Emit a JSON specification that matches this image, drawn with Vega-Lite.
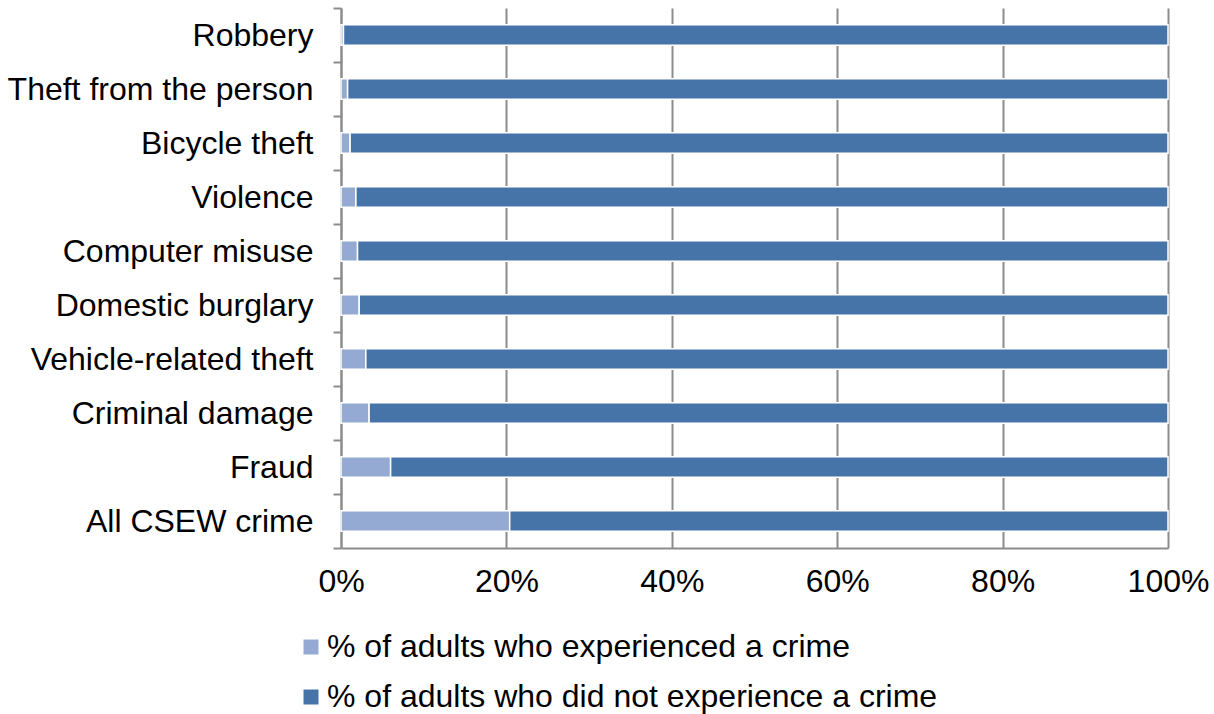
{
  "$schema": "https://vega.github.io/schema/vega-lite/v6.json",
  "width": 827,
  "height": 540,
  "autosize": {"type": "none"},
  "padding": {"left": 341, "top": 8, "right": 46, "bottom": 166},
  "background": "white",
  "config": {
    "font": "Liberation Sans",
    "view": {"stroke": null}
  },
  "data": {
    "values": [
      {"crime": "Robbery", "group": "% of adults who experienced a crime", "ord": 1, "value": 0.3},
      {"crime": "Robbery", "group": "% of adults who did not experience a crime", "ord": 2, "value": 99.7},
      {"crime": "Theft from the person", "group": "% of adults who experienced a crime", "ord": 1, "value": 0.8},
      {"crime": "Theft from the person", "group": "% of adults who did not experience a crime", "ord": 2, "value": 99.2},
      {"crime": "Bicycle theft", "group": "% of adults who experienced a crime", "ord": 1, "value": 1.1},
      {"crime": "Bicycle theft", "group": "% of adults who did not experience a crime", "ord": 2, "value": 98.9},
      {"crime": "Violence", "group": "% of adults who experienced a crime", "ord": 1, "value": 1.8},
      {"crime": "Violence", "group": "% of adults who did not experience a crime", "ord": 2, "value": 98.2},
      {"crime": "Computer misuse", "group": "% of adults who experienced a crime", "ord": 1, "value": 2.0},
      {"crime": "Computer misuse", "group": "% of adults who did not experience a crime", "ord": 2, "value": 98.0},
      {"crime": "Domestic burglary", "group": "% of adults who experienced a crime", "ord": 1, "value": 2.2},
      {"crime": "Domestic burglary", "group": "% of adults who did not experience a crime", "ord": 2, "value": 97.8},
      {"crime": "Vehicle-related theft", "group": "% of adults who experienced a crime", "ord": 1, "value": 3.0},
      {"crime": "Vehicle-related theft", "group": "% of adults who did not experience a crime", "ord": 2, "value": 97.0},
      {"crime": "Criminal damage", "group": "% of adults who experienced a crime", "ord": 1, "value": 3.4},
      {"crime": "Criminal damage", "group": "% of adults who did not experience a crime", "ord": 2, "value": 96.6},
      {"crime": "Fraud", "group": "% of adults who experienced a crime", "ord": 1, "value": 6.0},
      {"crime": "Fraud", "group": "% of adults who did not experience a crime", "ord": 2, "value": 94.0},
      {"crime": "All CSEW crime", "group": "% of adults who experienced a crime", "ord": 1, "value": 20.4},
      {"crime": "All CSEW crime", "group": "% of adults who did not experience a crime", "ord": 2, "value": 79.6}
    ]
  },
  "mark": {"type": "bar", "stroke": "white", "strokeWidth": 1.5, "height": {"band": 0.38}},
  "encoding": {
    "y": {
      "field": "crime",
      "type": "nominal",
      "sort": ["Robbery", "Theft from the person", "Bicycle theft", "Violence", "Computer misuse", "Domestic burglary", "Vehicle-related theft", "Criminal damage", "Fraud", "All CSEW crime"],
      "scale": {"paddingInner": 0, "paddingOuter": 0},
      "title": null,
      "axis": {
        "tickBand": "extent",
        "domainColor": "#8c8c8c",
        "domainWidth": 2,
        "tickColor": "#8c8c8c",
        "tickWidth": 2,
        "tickSize": 8,
        "labelFontSize": 32,
        "labelColor": "#000000",
        "labelPadding": 20,
        "labelLimit": 400,
        "grid": false
      }
    },
    "x": {
      "field": "value",
      "type": "quantitative",
      "stack": "zero",
      "scale": {"domain": [0, 100], "nice": false},
      "title": null,
      "axis": {
        "values": [0, 20, 40, 60, 80, 100],
        "labelExpr": "datum.value + '%'",
        "labelFlush": false,
        "grid": true,
        "gridColor": "#8c8c8c",
        "gridWidth": 2,
        "domainColor": "#8c8c8c",
        "domainWidth": 2,
        "ticks": false,
        "labelFontSize": 32,
        "labelColor": "#000000",
        "labelPadding": 18
      }
    },
    "order": {"field": "ord", "type": "quantitative"},
    "color": {
      "field": "group",
      "type": "nominal",
      "sort": ["% of adults who experienced a crime", "% of adults who did not experience a crime"],
      "scale": {"range": ["#95AAD3", "#4673A8"]},
      "legend": {
        "title": null,
        "orient": "none",
        "legendX": -46,
        "legendY": 623,
        "direction": "vertical",
        "symbolType": "square",
        "symbolSize": 225,
        "symbolStrokeWidth": 0,
        "labelFontSize": 32,
        "labelColor": "#000000",
        "labelLimit": 900,
        "rowPadding": 18,
        "labelOffset": 0
      }
    }
  }
}
